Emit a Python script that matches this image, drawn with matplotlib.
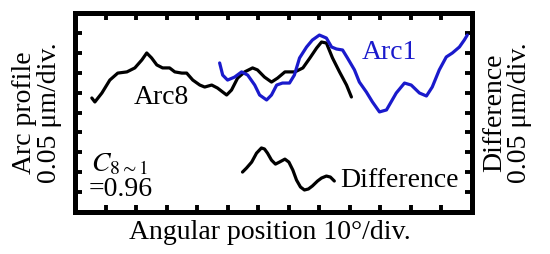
import numpy as np
import matplotlib
matplotlib.use("Agg")
import matplotlib.pyplot as plt

plt.rcParams['font.family'] = ['Liberation Serif', 'DejaVu Serif']
plt.rcParams['mathtext.fontset'] = 'stix'

# values (x: 10 deg/div, y: 0.05 um/div)
arc8_x = [0.54, 0.64, 0.87, 1.13, 1.39, 1.69, 1.95, 2.18, 2.34, 2.50, 2.67, 2.86,
          3.09, 3.26, 3.49, 3.65, 3.85, 4.08, 4.24, 4.47, 4.66, 4.83, 4.96, 5.12,
          5.32, 5.55, 5.81, 5.97, 6.20, 6.43, 6.63, 6.87, 7.20, 7.46, 7.69, 7.91,
          8.07, 8.23, 8.43, 8.66, 8.89, 9.05]
arc8_y = [5.73, 5.53, 5.98, 6.63, 6.98, 7.04, 7.24, 7.64, 7.99, 7.74, 7.39, 7.24,
          7.24, 7.04, 6.98, 6.98, 6.63, 6.38, 6.28, 6.38, 6.23, 6.03, 5.88, 6.13,
          6.73, 7.04, 7.24, 7.14, 6.78, 6.53, 6.73, 7.04, 7.04, 7.24, 7.74, 8.24,
          8.54, 8.49, 7.74, 7.04, 6.38, 5.78]
arc1_x = [4.73, 4.83, 4.99, 5.22, 5.45, 5.65, 5.88, 6.04, 6.27, 6.43, 6.60, 6.79,
          7.02, 7.18, 7.35, 7.58, 7.77, 8.00, 8.23, 8.40, 8.56, 8.76, 8.92, 9.15,
          9.31, 9.54, 9.74, 9.97, 10.20, 10.52, 10.79, 11.01, 11.28, 11.51, 11.70,
          11.93, 12.16, 12.36, 12.59, 12.75, 12.85]
arc1_y = [7.49, 6.88, 6.63, 6.78, 7.04, 6.88, 6.38, 5.88, 5.63, 5.88, 6.38, 6.48,
          6.48, 6.88, 7.74, 8.29, 8.64, 8.89, 8.74, 8.29, 8.19, 8.14, 7.74, 7.14,
          6.53, 6.03, 5.53, 5.03, 5.13, 5.98, 6.48, 6.38, 5.98, 5.83, 6.28, 7.14,
          7.79, 7.99, 8.29, 8.64, 8.89]
diff_x = [5.48, 5.61, 5.78, 5.94, 6.10, 6.20, 6.30, 6.43, 6.56, 6.69, 6.87, 7.00,
          7.13, 7.25, 7.38, 7.51, 7.64, 7.77, 7.94, 8.07, 8.23, 8.36, 8.49]
diff_y = [2.01, 2.21, 2.51, 2.96, 3.22, 3.17, 2.96, 2.61, 2.41, 2.51, 2.66, 2.51,
          2.11, 1.61, 1.26, 1.11, 1.16, 1.31, 1.56, 1.71, 1.81, 1.76, 1.56]

fig = plt.figure(figsize=(5.5, 2.54), dpi=100)
ax = fig.add_axes([0.137, 0.165, 0.721, 0.784])

ax.plot(arc8_x, arc8_y, color='black', lw=2.3, solid_capstyle='round', solid_joinstyle='round')
ax.plot(arc1_x, arc1_y, color='#1a1acc', lw=2.3, solid_capstyle='round', solid_joinstyle='round')
ax.plot(diff_x, diff_y, color='black', lw=2.3, solid_capstyle='round', solid_joinstyle='round')

ax.set_xlim(0, 13)
ax.set_ylim(0, 10)
ax.set_xticks(np.arange(1, 13))
ax.set_yticks(np.arange(1, 10))
ax.tick_params(direction='in', length=5, width=2.8, top=True, right=True,
               labelbottom=False, labelleft=False)
for s in ax.spines.values():
    s.set_linewidth(3.6)

fs = 20
ax.text(2.83, 5.75, 'Arc8', fontsize=fs, ha='center', va='center')
ax.text(10.29, 8.0, 'Arc1', fontsize=fs, ha='center', va='center', color='#1a1acc')
ax.text(10.62, 1.6, 'Difference', fontsize=fs, ha='center', va='center')
ax.text(0.5, 2.4, r'$C_{8\sim1}$', fontsize=fs, ha='left', va='center')
ax.text(0.45, 1.15, '=0.96', fontsize=fs, ha='left', va='center')

fig.text(0.49, 0.085, 'Angular position 10°/div.', fontsize=fs, ha='center', va='center')
fig.text(0.067, 0.557, 'Arc profile\n0.05 μm/div.', fontsize=fs, rotation=90,
         ha='center', va='center', linespacing=1.0)
fig.text(0.922, 0.557, 'Difference\n0.05 μm/div.', fontsize=fs, rotation=90,
         ha='center', va='center', linespacing=1.0)

fig.savefig('out.png', dpi=100)
